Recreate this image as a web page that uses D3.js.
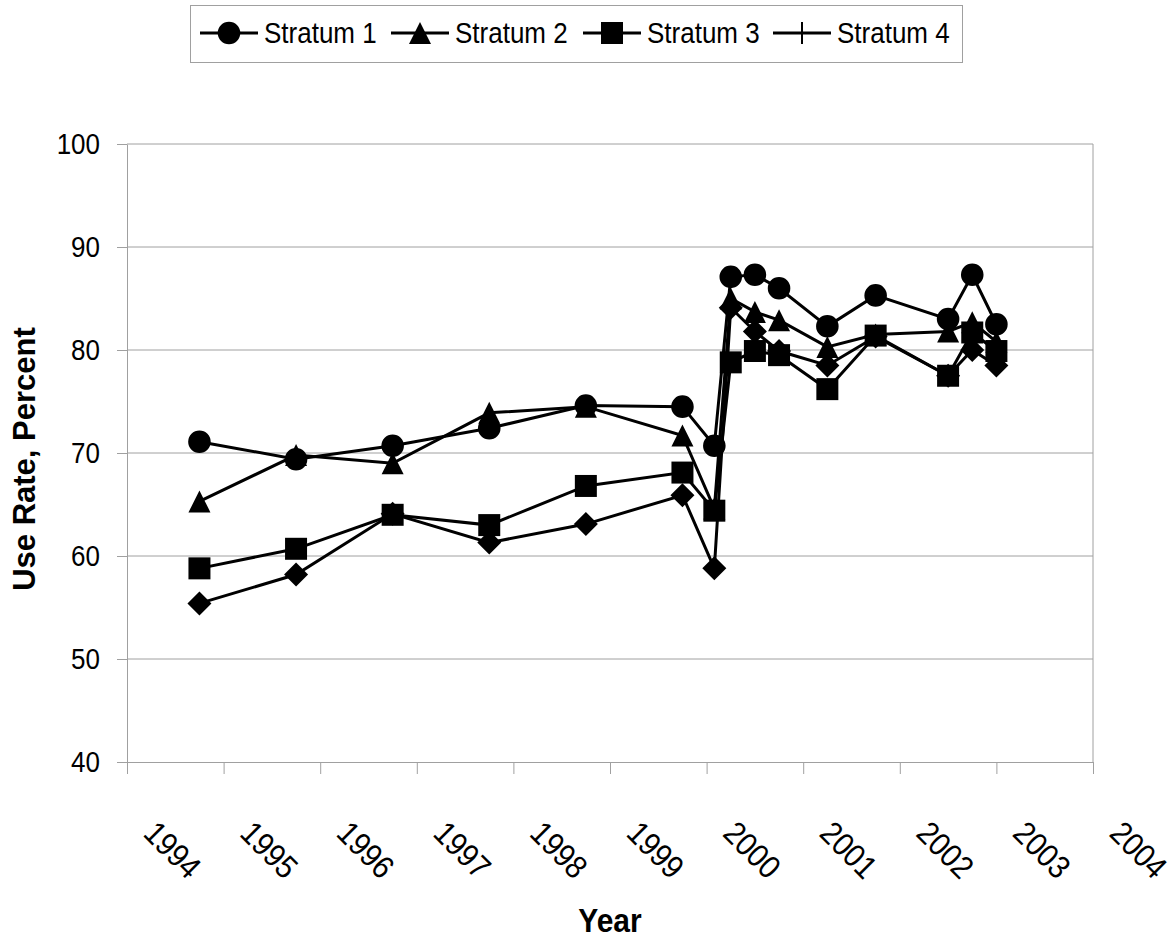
<!DOCTYPE html>
<html>
<head>
<meta charset="utf-8">
<script src="https://cdn.jsdelivr.net/npm/d3@7"></script>
<style>
  body { margin: 0; background: #fff; }
  svg { display: block; font-family: Arial, "Liberation Sans", sans-serif; }
</style>
</head>
<body>
<svg id="chart"></svg>
<script>
// survey waves, as decimal years
const waves = [1994.75, 1995.75, 1996.75, 1997.75, 1998.75, 1999.75, 2000.08, 2000.25,
               2000.5, 2000.75, 2001.25, 2001.75, 2002.5, 2002.75, 2003.0];

const stratum1 = [71.1, 69.4, 70.7, 72.4, 74.6, 74.5, 70.7, 87.1, 87.3, 86.0, 82.3, 85.3, 83.0, 87.3, 82.5];
const stratum2 = [65.3, 69.8, 69.0, 73.9, 74.5, 71.7, 64.6, 85.0, 83.7, 82.9, 80.3, 81.5, 81.8, 82.7, 80.8];
const stratum3 = [58.8, 60.7, 64.0, 63.0, 66.8, 68.1, 64.4, 78.8, 79.9, 79.5, 76.2, 81.4, 77.5, 81.7, 79.9];
const stratum4 = [55.4, 58.2, 64.1, 61.3, 63.1, 65.9, 58.8, 84.1, 81.8, 79.9, 78.5, 81.3, 77.5, 80.0, 78.5];

const seriesNames = ["Stratum 1", "Stratum 2", "Stratum 3", "Stratum 4"];
const yearTicks = [1994, 1995, 1996, 1997, 1998, 1999, 2000, 2001, 2002, 2003, 2004];
const yTicks = [40, 50, 60, 70, 80, 90, 100];

const width = 1174;
const height = 938;

const svg = d3.select("#chart")
    .attr("width", width)
    .attr("height", height);

const x = d3.scaleLinear().domain([1994, 2004]).range([127, 1093]);
const y = d3.scaleLinear().domain([40, 100]).range([762, 144]);

const gridColor = "#a0a0a0";
const font = "Arial, 'Liberation Sans', sans-serif";

// marker shapes (Excel style, ~22px)
const shapes = {
    circle: d3.symbol(d3.symbolCircle, 400)(),
    triangle: "M0,-11L11,11L-11,11Z",
    square: "M-11,-11H11V11H-11Z",
    diamond: "M0,-12L12,0L0,12L-12,0Z",
    plus: "M-11,0H11M0,-11V11"
};

// gridlines
svg.append("g")
    .selectAll("line")
    .data(yTicks.slice(1))
    .enter().append("line")
    .attr("x1", x(1994))
    .attr("x2", x(2004))
    .attr("y1", d => y(d))
    .attr("y2", d => y(d))
    .attr("stroke", gridColor)
    .attr("stroke-width", 1);

// right border of plot area
svg.append("line")
    .attr("x1", x(2004)).attr("x2", x(2004))
    .attr("y1", y(100)).attr("y2", y(40))
    .attr("stroke", gridColor);

// y axis
const yAxis = svg.append("g")
    .attr("transform", `translate(${x(1994)},0)`)
    .call(d3.axisLeft(y).tickValues(yTicks).tickSize(10).tickPadding(17).tickSizeOuter(0));
yAxis.select(".domain").attr("stroke", gridColor);
yAxis.selectAll(".tick line").attr("stroke", gridColor);
yAxis.selectAll(".tick text")
    .attr("fill", "#000")
    .attr("font-size", 26)
    .attr("font-family", font)
    .attr("transform", "scale(1,1.12)");

// x axis
const xAxis = svg.append("g")
    .attr("transform", `translate(0,${y(40)})`)
    .call(d3.axisBottom(x).tickValues(yearTicks).tickSize(12).tickSizeOuter(0).tickFormat(d3.format("d")));
xAxis.select(".domain").attr("stroke", gridColor);
xAxis.selectAll(".tick line").attr("stroke", gridColor);
xAxis.selectAll(".tick text")
    .attr("x", 0)
    .attr("y", 0)
    .attr("dy", null)
    .attr("fill", "#000")
    .attr("font-size", 29)
    .attr("font-family", font)
    .attr("text-anchor", "middle")
    .attr("dominant-baseline", "central")
    .attr("transform", "translate(45,88) rotate(45) scale(1,1.12)");

// axis titles
svg.append("text")
    .attr("transform", "translate(35,459) rotate(-90)")
    .attr("text-anchor", "middle")
    .attr("font-size", 31)
    .attr("font-weight", "bold")
    .text("Use Rate, Percent");

svg.append("text")
    .attr("transform", "translate(610,932) scale(1,1.1)")
    .attr("text-anchor", "middle")
    .attr("font-size", 30)
    .attr("font-weight", "bold")
    .text("Year");

// series
const series = [
    { name: seriesNames[0], values: stratum1, shape: "circle" },
    { name: seriesNames[1], values: stratum2, shape: "triangle" },
    { name: seriesNames[2], values: stratum3, shape: "square" },
    { name: seriesNames[3], values: stratum4, shape: "diamond" }
];

const line = d3.line()
    .x((d, i) => x(waves[i]))
    .y(d => y(d));

svg.append("g")
    .selectAll("path")
    .data(series)
    .enter().append("path")
    .attr("d", d => line(d.values))
    .attr("fill", "none")
    .attr("stroke", "#000")
    .attr("stroke-width", 3);

// markers: drawing order so circles and squares sit on top
const drawOrder = [series[3], series[1], series[2], series[0]];
drawOrder.forEach(s => {
    svg.append("g")
        .selectAll("path")
        .data(s.values)
        .enter().append("path")
        .attr("transform", (d, i) => `translate(${x(waves[i])},${y(d)})`)
        .attr("d", shapes[s.shape])
        .attr("fill", "#000");
});

// legend
const legend = svg.append("g");
legend.append("rect")
    .attr("x", 190.5).attr("y", 5.5)
    .attr("width", 772).attr("height", 57)
    .attr("fill", "#fff")
    .attr("stroke", gridColor);

const legendShapes = ["circle", "triangle", "square", "plus"];
const legendX = [200, 391, 583, 773];

const item = legend.selectAll("g.item")
    .data(seriesNames)
    .enter().append("g")
    .attr("class", "item")
    .attr("transform", (d, i) => `translate(${legendX[i]},33)`);

item.append("line")
    .attr("x1", 0).attr("x2", 58)
    .attr("stroke", "#000")
    .attr("stroke-width", 3);

item.append("path")
    .attr("transform", "translate(29,0)")
    .attr("d", (d, i) => shapes[legendShapes[i]])
    .attr("fill", (d, i) => legendShapes[i] === "plus" ? "none" : "#000")
    .attr("stroke", "#000")
    .attr("stroke-width", (d, i) => legendShapes[i] === "plus" ? 2 : 0);

item.append("text")
    .attr("x", 64)
    .attr("y", 0)
    .attr("dominant-baseline", "central")
    .attr("font-size", 26)
    .attr("transform", "scale(1,1.12)")
    .text(d => d);
</script>
</body>
</html>
